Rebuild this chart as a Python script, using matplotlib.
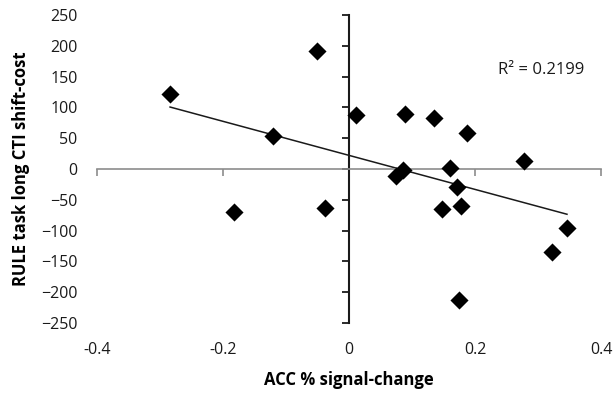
import numpy as np
import matplotlib
matplotlib.use("Agg")
import matplotlib.pyplot as plt

# ACC % signal-change vs RULE task long CTI shift-cost
acc = [-0.284, -0.121, -0.051, 0.011, 0.089, 0.135, 0.188, 0.277, 0.160, 0.086,
       0.075, 0.172, -0.182, -0.038, 0.147, 0.177, 0.346, 0.323, 0.175]
cost = [122, 54, 192, 88, 90, 82, 58, 13, 1, -2,
        -11, -29, -70, -64, -65, -60, -96, -135, -213]
xticks = [-0.4, -0.2, 0, 0.2, 0.4]
xticklabels = ["-0.4", "-0.2", "0", "0.2", "0.4"]
yticks = list(range(-250, 251, 50))
r2_text = "R\u00b2 = 0.2199"

plt.rcParams["font.family"] = ["Open Sans", "DejaVu Sans"]

fig = plt.figure(figsize=(6.14, 3.93), dpi=100)
pos = [97 / 614, 1 - 323 / 393, (601 - 97) / 614, (323 - 15) / 393]

# labels live on a frameless axes at the figure edges (Excel "low" labels)
lab = fig.add_axes(pos, frameon=False)
ax = fig.add_axes(pos, sharex=lab, sharey=lab)
ax.patch.set_visible(False)

ax.set_xlim(-0.4, 0.4)
ax.set_ylim(-250, 250)

for s in ["top", "right"]:
    ax.spines[s].set_visible(False)
ax.spines["left"].set_position(("data", 0))
ax.spines["bottom"].set_position(("data", 0))
ax.spines["left"].set_color("#1a1a1a")
ax.spines["left"].set_linewidth(1.5)
ax.spines["bottom"].set_color("#8c8c8c")
ax.spines["bottom"].set_linewidth(1.2)

ax.set_xticks(xticks)
ax.set_yticks(yticks)
ax.tick_params(axis="y", direction="out", length=5, width=1.3, color="#1a1a1a",
               labelleft=False)
ax.tick_params(axis="x", direction="out", length=5, width=1.2, color="#8c8c8c",
               labelbottom=False)

lab.set_xticks(xticks)
lab.set_xticklabels(xticklabels)
lab.set_yticks(yticks)
lab.tick_params(length=0, labelsize=11.5, colors="#1a1a1a")
lab.tick_params(axis="x", pad=14)
lab.tick_params(axis="y", pad=14)
lab.set_xlabel("ACC % signal-change", fontsize=12, fontweight="bold", labelpad=9)
lab.set_ylabel("RULE task long CTI shift-cost", fontsize=12, fontweight="bold",
               labelpad=8)

ax.scatter(acc, cost, marker="D", s=85, color="black", zorder=3, linewidths=0)

# linear trendline over data range
k, b = np.polyfit(acc, cost, 1)
xs = np.array([min(acc), max(acc)])
ax.plot(xs, k * xs + b, color="#1a1a1a", lw=1.1, zorder=2)

ax.text(0.237, 160, r2_text, fontsize=12, color="#1a1a1a", va="center")

fig.savefig("out.png", dpi=100)
